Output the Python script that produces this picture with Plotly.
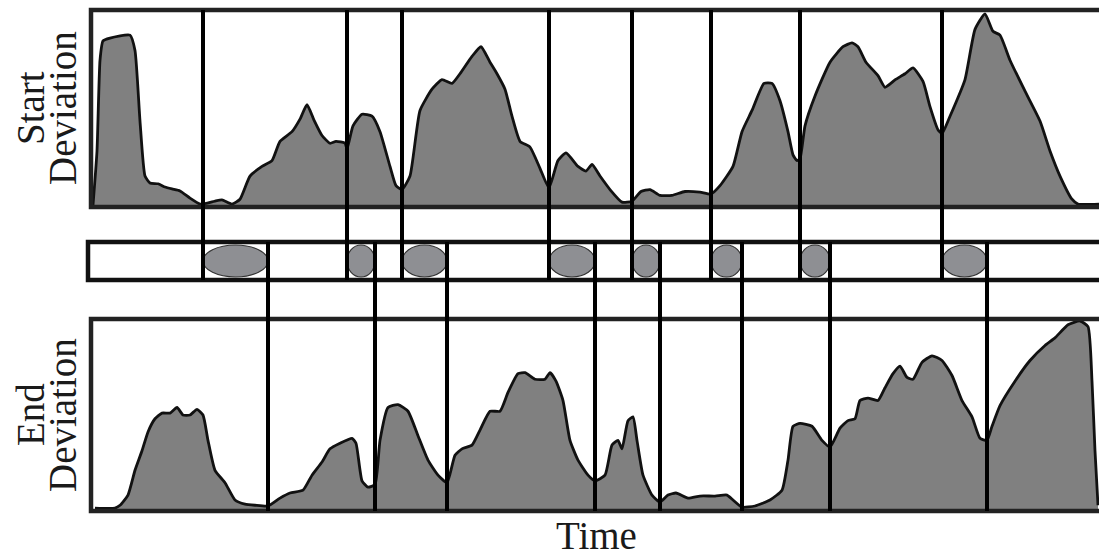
import plotly.graph_objects as go

# ---------------- data ----------------
start_time = [93, 97, 100, 103, 110, 130, 135, 140, 145, 150, 158, 165, 172, 180, 190, 200, 203,
              215, 222, 232, 240, 250, 262, 272, 280, 292, 300, 307, 314, 322, 330, 336, 345, 347,
              353, 362, 372, 380, 390, 396, 402, 410, 420, 432, 442, 452, 460, 472, 481, 490, 497,
              505, 512, 520, 530, 540, 549, 558, 566, 578, 586, 592, 600, 610, 622, 632, 641, 650,
              660, 672, 685, 700, 711, 720, 733, 742, 752, 764, 772, 780, 788, 793, 797, 800, 805,
              815, 830, 843, 852, 858, 866, 878, 885, 895, 905, 913, 923, 930, 938, 942, 950, 965,
              975, 985, 993, 1000, 1010, 1025, 1040, 1050, 1060, 1072, 1078, 1099]
start_dev = [0, 28, 75, 85, 86.5, 88, 80, 43.5, 15, 11.4, 11, 9.3, 8.3, 7.3, 3.6, 0.5, 0.5,
             2, 2.6, 0.5, 3, 15, 20, 23, 33, 38, 44.5, 52, 44, 36, 32, 33, 32, 29,
             41, 47, 46, 38, 20, 10, 8, 15, 49, 60, 65, 63, 68, 77, 82, 74, 68,
             60, 46, 33, 30, 19, 9, 23, 27, 20, 17.6, 21, 15, 8, 1.5, 2, 7, 8,
             5, 5, 7, 6.7, 5.7, 10, 20, 38, 49, 63, 63, 54, 38, 26, 23, 24, 41,
             56.5, 74, 82, 84, 82, 74, 67, 61, 64.8, 68, 71, 64, 51, 39, 37, 46, 65,
             91, 99, 90, 88, 75, 59, 43.5, 28, 15, 3, 0.5, 0.5]

end_time = [95, 115, 120, 128, 135, 142, 148, 155, 162, 170, 177, 183, 190, 197, 203, 208, 215,
            225, 235, 245, 255, 268, 280, 290, 303, 312, 322, 330, 340, 352, 356, 362, 368, 375,
            380, 388, 398, 408, 418, 428, 438, 447, 455, 462, 472, 480, 490, 500, 508, 518, 525,
            535, 545, 550, 556, 563, 570, 578, 588, 595, 605, 612, 618, 622, 628, 633, 637, 643,
            652, 660, 668, 676, 688, 700, 715, 727, 733, 742, 755, 770, 782, 788, 793, 800, 812,
            822, 830, 840, 848, 855, 860, 868, 878, 885, 893, 900, 907, 913, 922, 932, 942, 952,
            962, 972, 980, 987, 992, 1000, 1015, 1030, 1045, 1055, 1068, 1080, 1088, 1092, 1095, 1098]
end_dev = [0.5, 0.5, 2, 7.4, 20.6, 31, 41, 48, 51, 51, 54, 50, 50, 53, 50, 36.5, 20.6,
           14, 4.8, 2.6, 2, 1.6, 5.8, 8.5, 10, 18, 25, 32, 35, 37.6, 35, 15, 11.6, 13,
           36.5, 54, 55.5, 52, 39, 26, 18, 14, 28.6, 32, 34, 42, 52, 52, 62, 72, 72.5,
           69, 69, 72.5, 68, 57.7, 36.5, 26, 18, 15, 18, 34, 36.5, 32, 47, 49, 36.5, 18,
           7.4, 3.7, 7.4, 8.5, 5.8, 6.9, 6.9, 7.4, 4.8, 1, 1.6, 4.8, 10, 26, 44, 45.5, 44,
           36.5, 33, 43, 47, 48, 57.7, 59, 57.7, 64.5, 72, 76, 70, 69, 78, 81.5, 79, 71,
           57.7, 49, 37.6, 36.5, 44, 55, 68, 79, 87, 91, 98, 100, 97, 68, 31, 2]

start_bounds = [203, 347, 402, 549, 632, 711, 800, 942]
end_bounds = [268, 375, 447, 595, 660, 742, 830, 987]

top_label = ["Start", "Deviation"]
bottom_label = ["End", "Deviation"]
x_label = "Time"

# ---------------- layout helpers ----------------
W, H = 1099, 558
def py(p):  # pixel row -> paper
    return 1 - p / H

FILL = "#808080"
INK = "#111111"
ELL = "#8e8f93"

fig = go.Figure()
fig.add_trace(go.Scatter(x=start_time, y=start_dev, mode="lines", fill="tozeroy",
                         fillcolor=FILL, line=dict(color=INK, width=2.8, shape="spline", smoothing=0.5),
                         xaxis="x", yaxis="y", hoverinfo="skip", showlegend=False))
fig.add_trace(go.Scatter(x=end_time, y=end_dev, mode="lines", fill="tozeroy",
                         fillcolor=FILL, line=dict(color=INK, width=2.8, shape="spline", smoothing=0.5),
                         xaxis="x", yaxis="y2", hoverinfo="skip", showlegend=False))

shapes = []
# panel borders
shapes.append(dict(type="rect", xref="x", yref="paper", x0=91, x1=1120, y0=py(207), y1=py(10),
                   line=dict(color="#222", width=4.5), layer="above"))
shapes.append(dict(type="rect", xref="x", yref="paper", x0=91, x1=1120, y0=py(511), y1=py(319),
                   line=dict(color="#222", width=4.5), layer="above"))
# middle strip
shapes.append(dict(type="rect", xref="x", yref="paper", x0=88, x1=1120, y0=py(280), y1=py(242),
                   line=dict(color="#111", width=4.5), layer="above"))
# ellipses
for s, e in zip(start_bounds, end_bounds):
    shapes.append(dict(type="circle", xref="x", yref="paper", x0=s, x1=e, y0=py(277), y1=py(245),
                       fillcolor=ELL, line=dict(color="#333", width=1.2), layer="above"))
# boundary lines
for s in start_bounds:
    shapes.append(dict(type="line", xref="x", yref="paper", x0=s, x1=s, y0=py(280), y1=py(10),
                       line=dict(color="#000", width=4), layer="above"))
for e in end_bounds:
    shapes.append(dict(type="line", xref="x", yref="paper", x0=e, x1=e, y0=py(511), y1=py(242),
                       line=dict(color="#000", width=4), layer="above"))

font = dict(family="Liberation Serif, Times New Roman, serif", size=39, color="#1a1a1a")
common = dict(xref="x", yref="paper", showarrow=False, xanchor="center", yanchor="middle", font=font)
annotations = [
    dict(text=top_label[0], x=30, y=py(108), textangle=-90, **common),
    dict(text=top_label[1], x=62, y=py(108), textangle=-90, **common),
    dict(text=bottom_label[0], x=30, y=py(415), textangle=-90, **common),
    dict(text=bottom_label[1], x=62, y=py(415), textangle=-90, **common),
    dict(text=x_label, x=596, y=py(535), **common),
]

fig.update_layout(
    width=W, height=H, margin=dict(l=0, r=0, t=0, b=0),
    paper_bgcolor="white", plot_bgcolor="white",
    xaxis=dict(range=[0, W], visible=False, fixedrange=True),
    yaxis=dict(domain=[py(205), py(12)], range=[0, 100], visible=False),
    yaxis2=dict(domain=[py(509), py(321)], range=[0, 100], visible=False),
    shapes=shapes, annotations=annotations,
)

fig.write_html("out.html", config={"displayModeBar": False},
               post_script="document.body.style.margin='0';document.body.style.overflow='hidden';")
